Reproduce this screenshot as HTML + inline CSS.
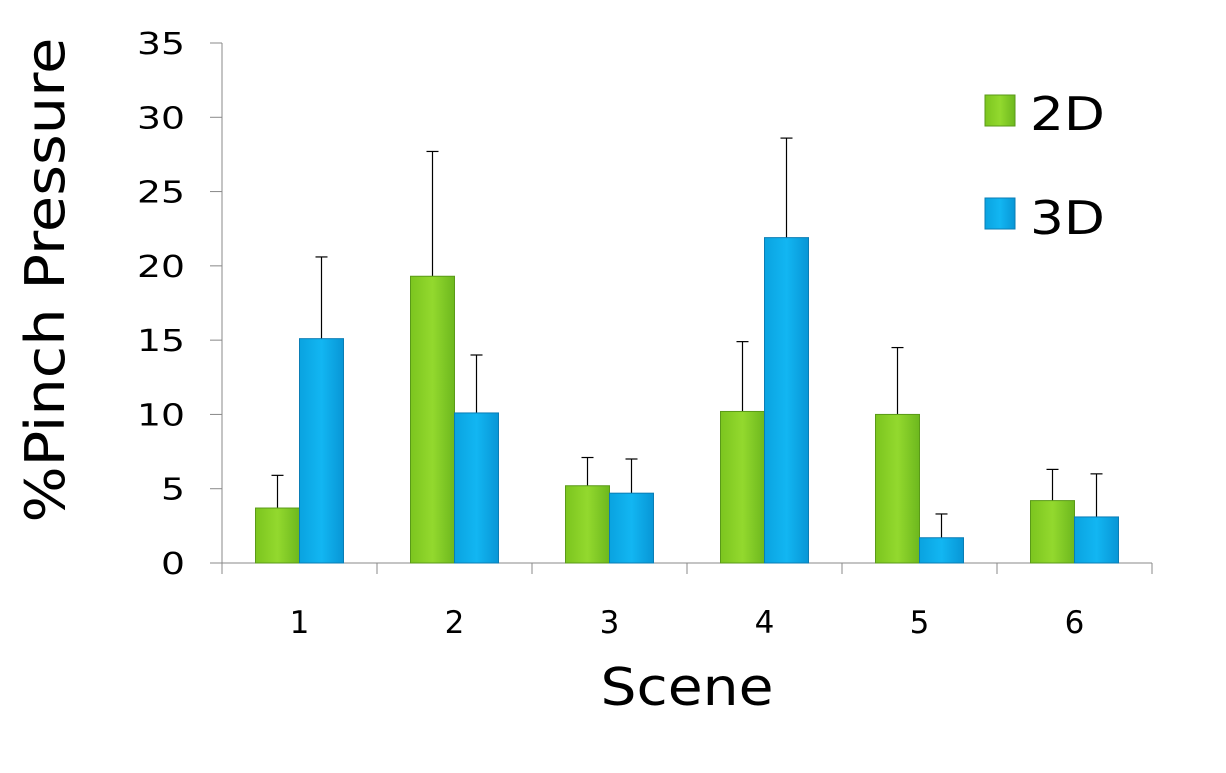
<!DOCTYPE html>
<html><head><meta charset="utf-8"><style>
body{margin:0;background:#fff}
svg text{font-family:"DejaVu Sans","Liberation Sans",sans-serif;fill:#000}
</style></head><body>
<svg width="1226" height="768">
<defs>
<linearGradient id="gg" x1="0" x2="1"><stop offset="0" stop-color="#7cc51f"/><stop offset="0.5" stop-color="#93d92e"/><stop offset="1" stop-color="#6db81e"/></linearGradient>
<linearGradient id="gb" x1="0" x2="1"><stop offset="0" stop-color="#0aa3e0"/><stop offset="0.5" stop-color="#12b6f2"/><stop offset="1" stop-color="#0896d6"/></linearGradient>
</defs>
<g id="axes"></g><g id="bars"></g>
<text x="64" y="280" font-size="54" text-anchor="middle" textLength="485" lengthAdjust="spacingAndGlyphs" transform="rotate(-90 64 280)">%Pinch Pressure</text>
<text x="687" y="705" font-size="52" text-anchor="middle" textLength="173" lengthAdjust="spacingAndGlyphs">Scene</text>
<g>
<rect x="985" y="95" width="30" height="31" fill="url(#gg)" stroke="#5a9a18"/>
<text x="1030" y="130" font-size="46" textLength="75" lengthAdjust="spacingAndGlyphs">2D</text>
<rect x="985" y="198" width="30" height="31" fill="url(#gb)" stroke="#0a7db5"/>
<text x="1030" y="234" font-size="46" textLength="75" lengthAdjust="spacingAndGlyphs">3D</text>
</g>
</svg>
<script>
const categories=["1","2","3","4","5","6"];
const values2D=[3.7,19.3,5.2,10.2,10.0,4.2];
const err2D=[5.9,27.7,7.1,14.9,14.5,6.3];
const values3D=[15.1,10.1,4.7,21.9,1.7,3.1];
const err3D=[20.6,14.0,7.0,28.6,3.3,6.0];
const yTicks=[0,5,10,15,20,25,30,35];
const NS="http://www.w3.org/2000/svg";
const x0=222,x1=1152,y0=563,yTop=43,yMax=35;
const band=(x1-x0)/categories.length;
const y=v=>y0-(v/yMax)*(y0-yTop);
const xc=i=>x0+band*(i+0.5);
function mk(t,a,p){const e=document.createElementNS(NS,t);for(const k in a)e.setAttribute(k,a[k]);p.appendChild(e);return e;}
const ax=document.getElementById('axes'),bs=document.getElementById('bars');
const yl=mk('line',{x1:x0,x2:x0,y1:yTop,y2:y0,stroke:'#888'},ax);


const xl=mk('line',{x1:x0,x2:x1,y1:y0,y2:y0,stroke:'#888'},ax);


yTicks.forEach(t=>{
 mk('line',{x1:x0-12,x2:x0,y1:y(t),y2:y(t),stroke:'#888'},ax);
 const tx=mk('text',{x:x0-37,y:y(t)+11,'font-size':30,'text-anchor':'end',textLength:String(t).length*24,lengthAdjust:'spacingAndGlyphs'},ax);tx.textContent=t;
 
 
});
for(let i=0;i<=categories.length;i++)mk('line',{x1:x0+band*i,x2:x0+band*i,y1:y0,y2:y0+11,stroke:'#888'},ax);
categories.forEach((c,i)=>{
 const tx=mk('text',{x:xc(i),y:633,'font-size':31,'text-anchor':'middle'},ax);tx.textContent=c;
 
 
 [[values2D,err2D,'url(#gg)','#5a9a18',-44,'2d'],[values3D,err3D,'url(#gb)','#0a7db5',0,'3d']].forEach(([v,e,f,s,off,n])=>{
  const bx=xc(i)+off;
  const el=mk('line',{x1:bx+22,x2:bx+22,y1:y(v[i]),y2:y(e[i]),stroke:'#000','stroke-width':1.2},bs);
  
  
  mk('line',{x1:bx+16,x2:bx+28,y1:y(e[i]),y2:y(e[i]),stroke:'#000','stroke-width':1.2},bs);
  const r=mk('rect',{x:bx,y:y(v[i]),width:44,height:y0-y(v[i]),fill:f,stroke:s},bs);
  
  
 });
});
</script>
</body></html>
